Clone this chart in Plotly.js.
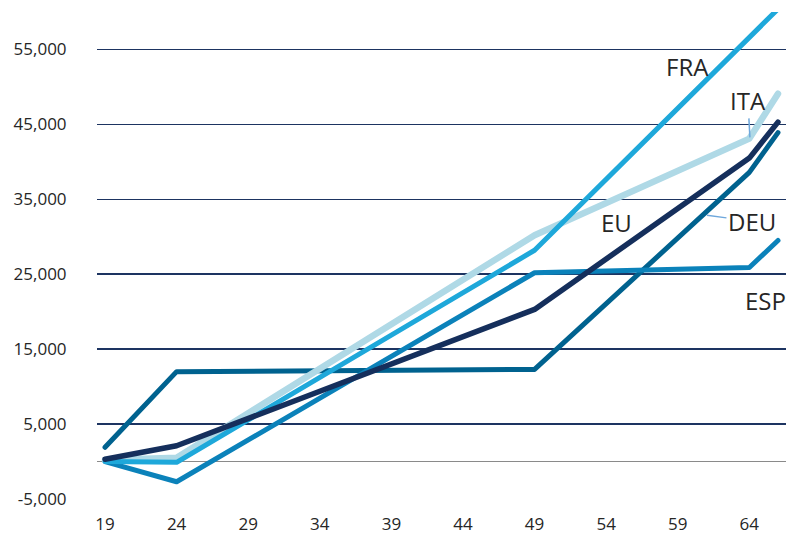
<!DOCTYPE html>
<html>
<head>
<meta charset="utf-8">
<script src="https://cdn.plot.ly/plotly-3.0.1.min.js"></script>
<style>
html,body{margin:0;padding:0;background:#fff;}
#chart{width:788px;height:537px;}
.js-line{stroke-linecap:round !important;stroke-linejoin:round !important;}
</style>
</head>
<body>
<div id="chart"></div>
<script>
const ages = [19, 24, 49, 64, 66];
const EU  = [300, 2100, 20300, 40500, 45300];
const FRA = [0, -100, 28200, 56800, 60400];
const ITA = [200, 500, 30200, 43100, 49100];
const DEU = [1900, 12000, 12300, 38600, 43900];
const ESP = [0, -2700, 25200, 25900, 29500];

const xTickVals = [19, 24, 29, 34, 39, 44, 49, 54, 59, 64];
const xTickText = ["19", "24", "29", "34", "39", "44", "49", "54", "59", "64"];
const yTickVals = [-5000, 5000, 15000, 25000, 35000, 45000, 55000];
const yTickText = ["-5,000", "5,000", "15,000", "25,000", "35,000", "45,000", "55,000"];

const FONT = "Open Sans, Noto Sans, sans-serif";

function tr(name, y, color, width) {
  return {x: ages, y: y, name: name, type: "scatter", mode: "lines",
          line: {color: color, width: width}, hoverinfo: "skip", cliponaxis: true};
}

const data = [
  tr("DEU", DEU, "#00628f", 5),
  tr("ESP", ESP, "#0b82ba", 5),
  tr("ITA", ITA, "#afd9e6", 6.5),
  tr("FRA", FRA, "#1ea8da", 5),
  tr("EU",  EU,  "#152f5c", 5.5)
];

const annFont = {family: FONT, size: 24, color: "#262626"};
const layout = {
  width: 788, height: 537,
  margin: {l: 97, r: 2, t: 11.5, b: 38},
  paper_bgcolor: "#fff", plot_bgcolor: "#fff",
  showlegend: false,
  font: {family: FONT, size: 17, color: "#262626"},
  xaxis: {
    range: [18.44, 66.56], tickmode: "array", tickvals: xTickVals, ticktext: xTickText,
    showgrid: false, zeroline: false, showline: false,
    ticks: "outside", ticklen: 10, tickcolor: "rgba(0,0,0,0)",
    tickfont: {family: FONT, size: 17, color: "#262626"}
  },
  yaxis: {
    range: [-5000, 60000], tickmode: "array", tickvals: yTickVals, ticktext: yTickText,
    showgrid: true, gridcolor: "#1d3461", gridwidth: 1.6,
    zeroline: true, zerolinecolor: "#8a8a8a", zerolinewidth: 1.5,
    showline: false,
    ticks: "outside", ticklen: 26, tickcolor: "rgba(0,0,0,0)",
    tickfont: {family: FONT, size: 17, color: "#262626"}
  },
  annotations: [
    {x: 59.7, y: 52700, text: "FRA", showarrow: false, font: annFont},
    {x: 64.04, y: 43270, text: "ITA", showarrow: true, arrowhead: 0, arrowwidth: 1.5,
     arrowcolor: "#6fa8dc", ax: -2, ay: -37, standoff: 0, font: annFont},
    {x: 54.75, y: 31900, text: "EU", showarrow: false, font: annFont},
    {x: 61.04, y: 32870, text: "DEU", showarrow: true, arrowhead: 0, arrowwidth: 1.5,
     arrowcolor: "#6fa8dc", ax: 45, ay: 6, standoff: 0, font: annFont},
    {x: 65.1, y: 21530, text: "ESP", showarrow: false, font: annFont}
  ]
};

Plotly.newPlot("chart", data, layout, {displayModeBar: false, staticPlot: true});
</script>
</body>
</html>
